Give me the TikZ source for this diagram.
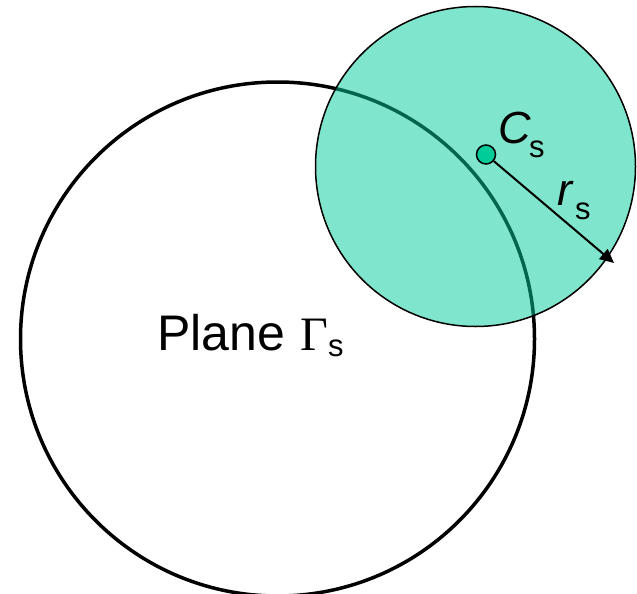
\documentclass[tikz,border=0pt]{standalone}
\usepackage{fontspec}
\setmainfont{Liberation Sans}
\newfontfamily\serifG{Liberation Serif}
\usetikzlibrary{arrows.meta}
\definecolor{sgreen}{RGB}{0,203,153}
\definecolor{dotgreen}{RGB}{0,204,153}
\begin{document}
\begin{tikzpicture}[x=1pt,y=-1pt,
  txt/.style={anchor=base west,inner sep=0pt},
  big/.style={font=\fontsize{50}{50}\selectfont},
  sub/.style={font=\fontsize{31}{31}\selectfont},
  ital/.style={font=\fontsize{45}{45}\selectfont\itshape}]
\useasboundingbox (0,0) rectangle (637,594);
\node[circle,draw=black,line width=3.5pt,minimum size=514pt,inner sep=0pt] (plane) at (277.5,339) {};
\node[circle,draw=black,line width=1.5pt,fill=sgreen,fill opacity=0.5,minimum size=320pt,inner sep=0pt] (sphere) at (475.5,166.5) {};
\node[circle,draw=black,line width=1.5pt,fill=dotgreen,minimum size=19pt,inner sep=0pt] (cs) at (486,154.5) {};
\coordinate (tip) at (614,263);
\draw[line width=2pt,-{Triangle[length=14pt,width=13pt]}] (cs) -- (tip);
\node[txt,big] (plw) at (157,350) {Plane};
\node[txt,font=\fontsize{48}{48}\serifG] (gam) at (300,350) {Γ};
\node[txt,sub] (gsub) at (328,356) {s};
\node[txt,ital] (cl) at (498,143) {C};
\node[txt,sub] (csub) at (529,157) {s};
\node[txt,ital] (rl) at (557,205) {r};
\node[txt,sub] (rsub) at (575,219) {s};
\end{tikzpicture}
\end{document}
